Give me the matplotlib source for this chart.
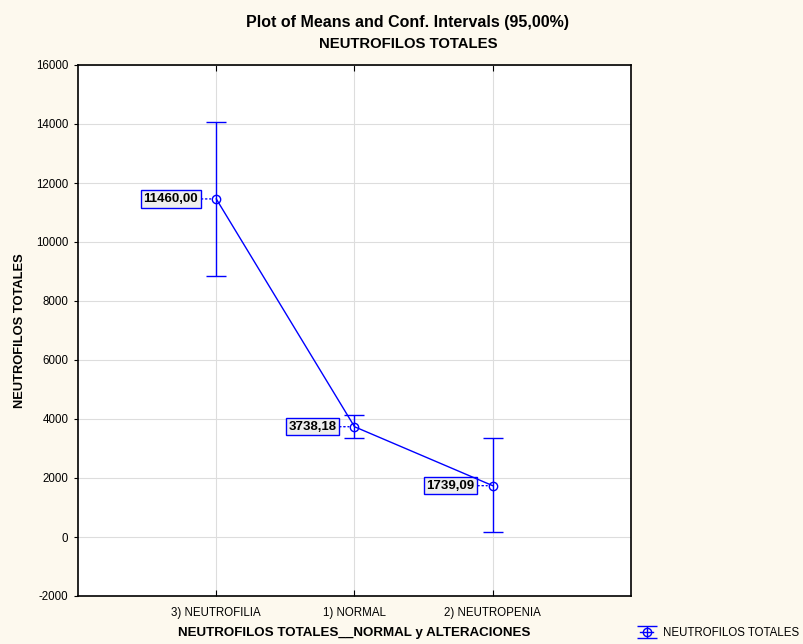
import matplotlib.pyplot as plt

# Datos del grafico
categorias = ['3) NEUTROFILIA', '1) NORMAL', '2) NEUTROPENIA']
medias = [11460.00, 3738.18, 1739.09]
ic_inf = [8860, 3340, 170]
ic_sup = [14060, 4136, 3356]
etiquetas = ['11460,00', '3738,18', '1739,09']

azul = '#0000FF'
fondo = '#FDF9EE'

plt.rcParams['font.family'] = ['Liberation Sans', 'DejaVu Sans']
plt.rcParams['axes.unicode_minus'] = False

fig = plt.figure(figsize=(8.04, 6.44), dpi=100, facecolor=fondo)
ax = fig.add_axes([78 / 804, 1 - 596 / 644, (631 - 78) / 804, (596 - 65) / 644])
ax.set_facecolor('white')

x = [1, 2, 3]
err = [[m - lo for m, lo in zip(medias, ic_inf)], [hi - m for m, hi in zip(medias, ic_sup)]]
ax.errorbar(x, medias, yerr=err, color=azul, lw=1, marker='o', mfc='none', ms=6,
            mec=azul, capsize=7, capthick=1, label='NEUTROFILOS TOTALES', zorder=3)

# Etiquetas con caja
for xi, m, txt in zip(x, medias, etiquetas):
    ax.annotate(txt, xy=(xi, m), xytext=(-13, 0), textcoords='offset points',
                ha='right', va='center', fontsize=9.5, fontweight='bold',
                bbox=dict(boxstyle='square,pad=0.2', fc='#EEEEEE', ec=azul, lw=1),
                arrowprops=dict(arrowstyle='-', color=azul, ls=(0, (1, 2)), lw=1,
                                shrinkA=0, shrinkB=4))

ax.set_xlim(0, 4)
ax.set_ylim(-2000, 16000)
ax.set_xticks(x)
ax.set_xticklabels(categorias, fontsize=8.3)
ax.set_yticks(range(-2000, 16001, 2000))
ax.tick_params(axis='y', labelsize=8.3, direction='out', length=3, pad=4)
ax.tick_params(axis='x', direction='in', length=4, top=True, pad=8)
ax.grid(True, color='#DDDDDD', lw=0.8)
ax.set_axisbelow(True)
for s in ax.spines.values():
    s.set_linewidth(1.2)

ax.set_xlabel('NEUTROFILOS TOTALES__NORMAL y ALTERACIONES', fontsize=9.6, fontweight='bold', labelpad=6)
ax.set_ylabel('NEUTROFILOS TOTALES', fontsize=9.3, fontweight='bold', labelpad=7)

fig.text(408 / 804, 1 - 22 / 644, 'Plot of Means and Conf. Intervals (95,00%)', ha='center', va='center',
         fontsize=11.5, fontweight='bold')
fig.text(408 / 804, 1 - 44 / 644, 'NEUTROFILOS TOTALES', ha='center', va='center',
         fontsize=10.7, fontweight='bold')

leg = fig.legend(loc='lower right', bbox_to_anchor=(1.0, 0.0), frameon=False, fontsize=8.3,
                 handlelength=1.2, borderaxespad=0.05)

fig.savefig('out.png', dpi=100, facecolor=fondo)
